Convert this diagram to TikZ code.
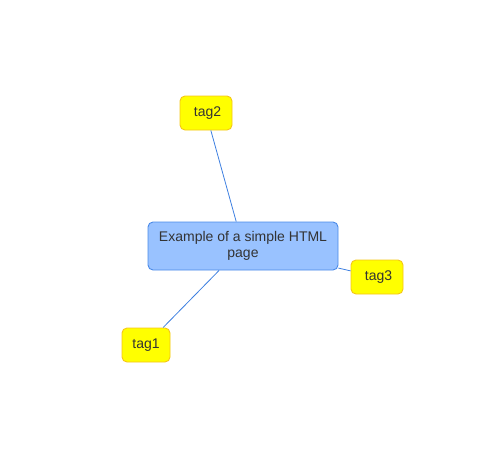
\documentclass[tikz,border=0pt]{standalone}
\usepackage{fontspec}
\setmainfont{Liberation Sans}
\definecolor{mainfill}{HTML}{99C2FF}
\definecolor{mainborder}{HTML}{4A8AE8}
\definecolor{tagfill}{HTML}{FFFF00}
\definecolor{tagborder}{HTML}{F5C518}
\definecolor{edgecol}{HTML}{3D7FE0}
\definecolor{txt}{HTML}{333333}
\tikzset{
  mainbox/.style={draw=mainborder, fill=mainfill, rounded corners=5pt, line width=0.9pt,
    minimum width=190pt, minimum height=48pt, inner sep=0pt, align=center,
    font=\fontsize{14pt}{16pt}\selectfont, text=txt},
  tagbox/.style={draw=tagborder, fill=tagfill, rounded corners=5pt, line width=0.9pt,
    minimum height=34pt, inner sep=0pt,
    font=\fontsize{14pt}{16pt}\selectfont, text=txt},
  link/.style={draw=edgecol, line width=0.8pt}
}
\begin{document}
\begin{tikzpicture}[x=1pt,y=-1pt]
\useasboundingbox (0,0) rectangle (497,459);
\node[mainbox] (m) at (243,246) {Example of a simple HTML\\page};
\node[tagbox, minimum width=52pt, text width=52pt, align=center] (t2) at (206,113) {\hspace*{3pt}tag2};
\node[tagbox, minimum width=48pt] (t1) at (146,345) {tag1};
\node[tagbox, minimum width=52pt, text width=52pt, align=center] (t3) at (377,277) {\hspace*{3pt}tag3};
\draw[link] (m) -- (t2);
\draw[link] (m) -- (t1);
\draw[link] (m) -- (t3);
\end{tikzpicture}
\end{document}
